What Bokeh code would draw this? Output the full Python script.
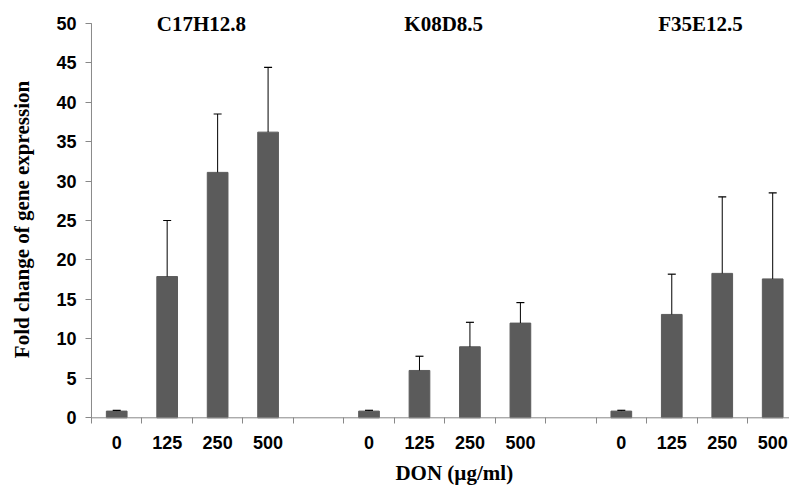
import math
from bokeh.plotting import figure
from bokeh.models import Range1d, FixedTicker, Label, ColumnDataSource
from bokeh.embed import file_html
from bokeh.resources import INLINE

genes = ["C17H12.8", "K08D8.5", "F35E12.5"]
doses = ["0", "125", "250", "500"]
c17_mean = [0.85, 17.9, 31.1, 36.2]
c17_err = [0.1, 7.1, 7.4, 8.2]
k08_mean = [0.85, 6.0, 9.0, 12.0]
k08_err = [0.1, 1.8, 3.1, 2.6]
f35_mean = [0.85, 13.1, 18.3, 17.6]
f35_err = [0.1, 5.1, 9.7, 10.9]
y_ticks = [0, 5, 10, 15, 20, 25, 30, 35, 40, 45, 50]
x_title = "DON (\u00b5g/ml)"
y_title = "Fold change of gene expression"

means = [c17_mean, k08_mean, f35_mean]
errs = [c17_err, k08_err, f35_err]

xs, tops, uppers, labels = [], [], [], []
for g in range(len(genes)):
    for d in range(len(doses)):
        xs.append(g * 5 + d + 0.5)
        tops.append(means[g][d])
        uppers.append(means[g][d] + errs[g][d])
        labels.append(doses[d])

src = ColumnDataSource(dict(x=xs, top=tops, upper=uppers))

x_start, x_end = -1.803, 13.833
y_start, y_end = -8.705, 52.88
y_max = y_ticks[-1]

p = figure(width=789, height=486, output_backend="svg", toolbar_location=None,
           x_range=Range1d(x_start, x_end), y_range=Range1d(y_start, y_end),
           min_border_left=0, min_border_right=0, min_border_top=0,
           min_border_bottom=0)
p.background_fill_color = "white"
p.border_fill_color = "white"
p.outline_line_color = None
p.xgrid.visible = False
p.ygrid.visible = False

p.vbar(x="x", top="top", bottom=0, width=0.41, source=src,
       fill_color="#5b5b5b", line_color="#5b5b5b")
p.segment(x0="x", y0="top", x1="x", y1="upper", source=src,
          line_color="black", line_width=1)
p.dash(x="x", y="upper", size=8, source=src, line_color="black", line_width=1.2)

# axis lines (only over the data area)
p.segment(x0=[0], y0=[0], x1=[0], y1=[y_max], line_color="#888888", line_width=1)
p.segment(x0=[0], y0=[0], x1=[x_end], y1=[0], line_color="#888888", line_width=1)

# x axis drawn at y = 0
boundaries = list(range(0, 15))
p.xaxis.fixed_location = 0
p.xaxis.ticker = FixedTicker(ticks=xs, minor_ticks=boundaries)
p.xaxis.major_label_overrides = {x: l for x, l in zip(xs, labels)}
p.xaxis.major_tick_out = 0
p.xaxis.major_tick_in = 0
p.xaxis.minor_tick_out = 6
p.xaxis.minor_tick_in = 0
p.xaxis.minor_tick_line_color = "#888888"
p.xaxis.axis_line_color = None
p.xaxis.major_label_standoff = 12
p.xaxis.major_label_text_font = "Liberation Sans"
p.xaxis.major_label_text_font_style = "bold"
p.xaxis.major_label_text_font_size = "18px"
p.xaxis.major_label_text_color = "black"

# y axis drawn at x = 0
p.yaxis.fixed_location = 0
p.yaxis.ticker = FixedTicker(ticks=y_ticks)
p.yaxis.minor_tick_line_color = None
p.yaxis.major_tick_out = 6
p.yaxis.major_tick_in = 0
p.yaxis.major_tick_line_color = "#888888"
p.yaxis.axis_line_color = None
p.yaxis.major_label_standoff = 9
p.yaxis.major_label_text_font = "Liberation Sans"
p.yaxis.major_label_text_font_style = "bold"
p.yaxis.major_label_text_font_size = "18px"
p.yaxis.major_label_text_color = "black"

# axis titles
p.add_layout(Label(x=-1.38, y=25.13, text=y_title, angle=math.pi / 2,
                   text_align="center", text_baseline="middle",
                   text_font="Liberation Serif", text_font_style="bold",
                   text_font_size="21px", text_color="black"))
p.add_layout(Label(x=7.19, y=-6.95, text=x_title, text_align="center",
                   text_baseline="alphabetic", text_font="Liberation Serif",
                   text_font_style="bold", text_font_size="21px",
                   text_color="black"))

# gene titles
title_offsets = [0.18, -0.02, 0.07]
for g, name in enumerate(genes):
    p.add_layout(Label(x=g * 5 + 2 + title_offsets[g], y=49.84, text=name,
                       text_align="center", text_baseline="middle",
                       text_font="Liberation Serif", text_font_style="bold",
                       text_font_size="21px", text_color="black"))

open("out.html", "w").write(file_html(p, INLINE))
